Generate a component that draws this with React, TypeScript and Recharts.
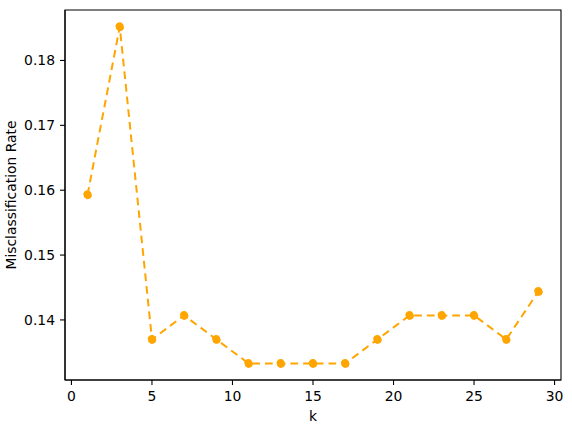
import { LineChart, Line, XAxis, YAxis, ReferenceArea } from 'recharts'

// k values and misclassification rates
const kValues = [1, 3, 5, 7, 9, 11, 13, 15, 17, 19, 21, 23, 25, 27, 29]
const errorRates = [
  0.1593, 0.1852, 0.137, 0.1407, 0.137, 0.1333, 0.1333, 0.1333,
  0.1333, 0.137, 0.1407, 0.1407, 0.1407, 0.137, 0.1444,
]
const xTicks = [0, 5, 10, 15, 20, 25, 30]
const yTicks = [0.14, 0.15, 0.16, 0.17, 0.18]

const xDomain: [number, number] = [-0.4, 30.4]
const yDomain: [number, number] = [0.13074, 0.18778]

const chartData = kValues.map((k, i) => ({ k, rate: errorRates[i] }))

const fontSize = 13.9
const tickStyle = { fill: '#000', fontSize, fontFamily: 'DejaVu Sans' }

// rotated y-axis title, baseline placed explicitly
const YTitle = (props: any) => {
  const vb = props.viewBox || {}
  const x = (vb.x ?? 0) + 16
  const y = (vb.y ?? 0) + (vb.height ?? 0) / 2
  return (
    <text
      x={x}
      y={y}
      transform={`rotate(-90, ${x}, ${y})`}
      textAnchor="middle"
      fill="#000"
      fontSize={fontSize}
      fontFamily="DejaVu Sans"
    >
      Misclassification Rate
    </text>
  )
}

export default function App() {
  return (
    <div style={{ width: 572, height: 427, background: '#fff', overflow: 'visible' }}>
      <style>{'body { margin: 0; } .recharts-surface { overflow: visible; }'}</style>
      <LineChart
        width={572}
        height={427}
        data={chartData}
        margin={{ top: 10, right: 11, bottom: 0, left: 0 }}
        style={{ fontFamily: 'DejaVu Sans' }}
      >
        <XAxis
          dataKey="k"
          type="number"
          domain={xDomain}
          ticks={xTicks}
          allowDataOverflow
          height={47}
          tickSize={5}
          tickMargin={6}
          tick={tickStyle}
          stroke="#000"
          strokeWidth={1.1}
          tickLine={{ stroke: '#000' }}
          label={{ value: 'k', position: 'insideBottom', offset: 6, style: { fill: '#000', fontSize } }}
        />
        <YAxis
          type="number"
          domain={yDomain}
          ticks={yTicks}
          allowDataOverflow
          width={65}
          tickSize={5}
          tickMargin={5}
          tick={tickStyle}
          stroke="#000"
          strokeWidth={1.1}
          tickLine={{ stroke: '#000' }}
          tickFormatter={(v: number) => v.toFixed(2)}
          label={{ content: YTitle }}
        />
        <ReferenceArea
          x1={xDomain[0]}
          x2={xDomain[1]}
          y1={yDomain[0]}
          y2={yDomain[1]}
          fill="none"
          stroke="#000"
          strokeWidth={1.1}
          ifOverflow="visible"
        />
        <Line
          dataKey="rate"
          type="linear"
          stroke="#ffa500"
          strokeWidth={2}
          strokeDasharray="7.7 5"
          dot={{ r: 4, fill: '#ffa500', stroke: '#ffa500', strokeWidth: 1 }}
          isAnimationActive={false}
        />
      </LineChart>
    </div>
  )
}
